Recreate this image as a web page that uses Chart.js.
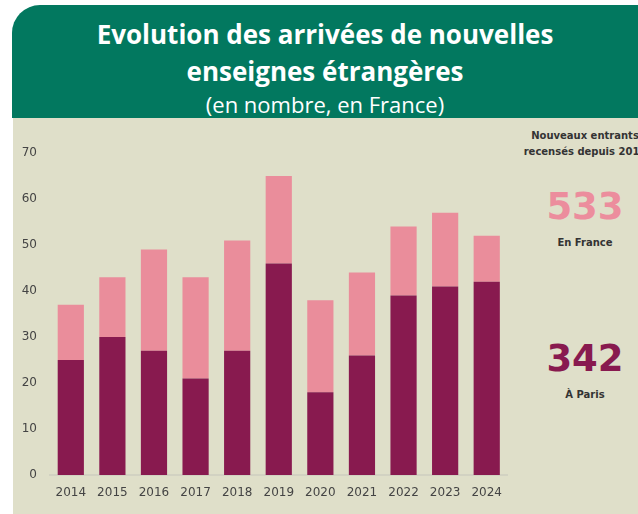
<!DOCTYPE html>
<html lang="fr">
<head>
<meta charset="utf-8">
<script src="https://cdn.jsdelivr.net/npm/chart.js@4"></script>
<style>
  html, body { margin: 0; padding: 0; background: #ffffff; }
  body { width: 638px; height: 514px; position: relative; overflow: hidden; }
  #header {
    position: absolute; left: 12px; top: 5px; width: 626px; height: 113px;
    background: #02785f; border-top-left-radius: 28px; color: #fff;
    text-align: center; font-family: "Open Sans", sans-serif;
  }
  #header .t { position: absolute; left: 0; width: 100%; font-weight: bold; font-size: 26px; line-height: 30px; }
  #header .s { position: absolute; left: 0; width: 100%; font-size: 22px; line-height: 24px; }
  #panel {
    position: absolute; left: 13px; top: 118px; width: 625px; height: 396px;
    background: #dfdfc9;
  }
  #wrap { position: absolute; left: 0; top: 0; width: 500px; height: 396px; }
  .side { position: absolute; left: 500px; width: 144px; text-align: center;
          font-family: "DejaVu Sans", sans-serif; font-weight: bold; white-space: nowrap; }
  .small { font-size: 10px; color: #333; }
  .big { font-size: 37px; }
</style>
</head>
<body>
<div id="header">
  <div class="t" style="top:14px">Evolution des arrivées de nouvelles</div>
  <div class="t" style="top:51px">enseignes étrangères</div>
  <div class="s" style="top:87px">(en nombre, en France)</div>
</div>
<div id="panel">
  <div id="wrap"><canvas id="bars"></canvas></div>
  <div class="side small" style="top:12px">Nouveaux entrants</div>
  <div class="side small" style="top:28px">recensés depuis 2014</div>
  <div class="side big" style="top:67px; color:#ec8d9d">533</div>
  <div class="side small" style="top:119px">En France</div>
  <div class="side big" style="top:219px; color:#881a4f">342</div>
  <div class="side small" style="top:271px">À Paris</div>
</div>
<script>
const years = ['2014', '2015', '2016', '2017', '2018', '2019', '2020', '2021', '2022', '2023', '2024'];
const parisValues = [25, 30, 27, 21, 27, 46, 18, 26, 39, 41, 42];
const restOfFranceValues = [12, 13, 22, 22, 24, 19, 20, 18, 15, 16, 10];
const yTicks = [0, 10, 20, 30, 40, 50, 60, 70];

const ctx = document.getElementById('bars').getContext('2d');
new Chart(ctx, {
    type: 'bar',
    data: {
        labels: years,
        datasets: [
            {
                label: 'À Paris',
                data: parisValues,
                backgroundColor: '#881a4f',
                barPercentage: 0.63,
                categoryPercentage: 1
            },
            {
                label: 'Reste de la France',
                data: restOfFranceValues,
                backgroundColor: '#ea8d9b',
                barPercentage: 0.63,
                categoryPercentage: 1
            }
        ]
    },
    options: {
        responsive: true,
        maintainAspectRatio: false,
        animation: false,
        layout: { padding: { top: 35, right: 0, left: 0, bottom: 0 } },
        plugins: {
            legend: { display: false },
            tooltip: { enabled: false }
        },
        scales: {
            x: {
                stacked: true,
                grid: { display: false, drawTicks: false },
                border: { display: true, color: '#d2d2c2', width: 2 },
                ticks: {
                    padding: 11,
                    color: '#444',
                    font: { family: 'DejaVu Sans', size: 12 }
                },
                afterFit: function (scale) { scale.height = 39; }
            },
            y: {
                stacked: true,
                min: 0,
                max: 70,
                grid: { display: false, drawTicks: false },
                border: { display: false },
                afterBuildTicks: function (scale) {
                    scale.ticks = yTicks.map(v => ({ value: v }));
                },
                ticks: {
                    padding: 13,
                    color: '#444',
                    font: { family: 'DejaVu Sans', size: 12 }
                },
                afterFit: function (scale) { scale.width = 37; }
            }
        }
    }
});
</script>
</body>
</html>
